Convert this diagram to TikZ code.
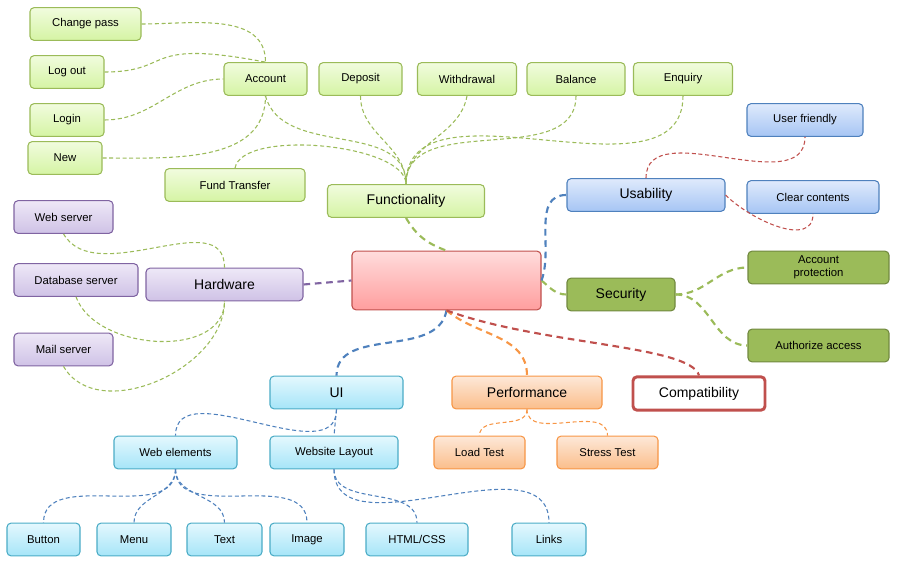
\documentclass[tikz,border=0pt]{standalone}
\usepackage{fontspec}
\setmainfont{Liberation Sans}
\usetikzlibrary{positioning}

\definecolor{grnline}{HTML}{9BBB59}
\definecolor{grntop}{HTML}{F1FCDE}
\definecolor{grnbot}{HTML}{D5F4A4}
\definecolor{grndark}{HTML}{71893F}
\definecolor{purline}{HTML}{8064A2}
\definecolor{purtop}{HTML}{EEE8F7}
\definecolor{purbot}{HTML}{CFC2E6}
\definecolor{bluline}{HTML}{4F81BD}
\definecolor{blutop}{HTML}{DFEAFC}
\definecolor{blubot}{HTML}{A6C5F4}
\definecolor{cyaline}{HTML}{4BACC6}
\definecolor{cyatop}{HTML}{E4F8FE}
\definecolor{cyabot}{HTML}{A6E5F8}
\definecolor{oraline}{HTML}{F79646}
\definecolor{oratop}{HTML}{FDE8D8}
\definecolor{orabot}{HTML}{FBBE8B}
\definecolor{redline}{HTML}{C0504D}
\definecolor{redtop}{HTML}{FFDCDC}
\definecolor{redbot}{HTML}{FF9E9E}

\begin{document}
\begin{tikzpicture}[x=0.75pt,y=-0.75pt,
	wd/.style={minimum width=#1*0.75pt},
	box/.style={draw, rounded corners=3pt, line width=0.8pt, minimum height=24.5pt, inner sep=1pt, align=center, font=\fontsize{8.5}{9.5}\selectfont},
	bigbox/.style={box, font=\fontsize{10.5}{12}\selectfont},
	greenbox/.style={box, draw=grnline, top color=grntop, bottom color=grnbot},
	purplebox/.style={box, draw=purline, top color=purtop, bottom color=purbot},
	bluebox/.style={box, draw=bluline, top color=blutop, bottom color=blubot},
	cyanbox/.style={box, draw=cyaline, top color=cyatop, bottom color=cyabot},
	orangebox/.style={box, draw=oraline, top color=oratop, bottom color=orabot},
	olivebox/.style={box, draw=grndark, fill=grnline},
	thinlink/.style={line width=0.8pt, dash pattern=on 3pt off 2pt},
	thicklink/.style={line width=1.6pt, dash pattern=on 5pt off 3.5pt}]

	\useasboundingbox (0,0) rectangle (903,573);

	% functionality branch
	\node[greenbox, wd=111] (cpass) at (85.5,24) {Change pass};
	\node[greenbox, wd=74] (logout) at (67,72) {Log out};
	\node[greenbox, wd=74] (login) at (67,120) {Login};
	\node[greenbox, wd=74] (new) at (65,158) {New};
	\node[greenbox, wd=83] (acc) at (265.5,79) {Account};
	\node[greenbox, wd=83] (dep) at (360.5,79) {Deposit};
	\node[greenbox, wd=99] (wdr) at (467,79) {Withdrawal};
	\node[greenbox, wd=98] (bal) at (576,79) {Balance};
	\node[greenbox, wd=99] (enq) at (683,79) {Enquiry};
	\node[greenbox, wd=140] (fund) at (235,185) {Fund Transfer};
	\node[greenbox, bigbox, wd=157] (func) at (406,201) {Functionality};

	% centre
	\node[box, draw=redline, top color=redtop, bottom color=redbot, wd=189, minimum height=44pt] (cen) at (446.5,280.5) {};

	% usability and security
	\node[bluebox, wd=116] (ufr) at (805,120) {User friendly};
	\node[bluebox, bigbox, wd=158] (usa) at (646,195) {Usability};
	\node[bluebox, wd=132] (clr) at (813,197) {Clear contents};
	\node[olivebox, bigbox, wd=108] (sec) at (621,294.5) {Security};
	\node[olivebox, wd=141] (accp) at (818.5,267.5) {Account\\protection};
	\node[olivebox, wd=141] (auth) at (818.5,345.5) {Authorize access};

	% hardware
	\node[purplebox, wd=99] (websrv) at (63.5,217) {Web server};
	\node[purplebox, wd=124] (dbsrv) at (76,280) {Database server};
	\node[purplebox, wd=99] (mailsrv) at (63.5,349.5) {Mail server};
	\node[purplebox, bigbox, wd=157] (hw) at (224.5,284.5) {Hardware};

	% ui, performance, compatibility
	\node[cyanbox, bigbox, wd=133] (ui) at (336.5,392.5) {UI};
	\node[orangebox, bigbox, wd=150] (perf) at (527,392.5) {Performance};
	\node[box, bigbox, draw=redline, line width=2.2pt, fill=white, wd=132, minimum height=25pt] (comp) at (699,393.5) {Compatibility};
	\node[cyanbox, wd=123] (webel) at (175.5,452.5) {Web elements};
	\node[cyanbox, wd=128] (layout) at (334,452.5) {Website Layout};
	\node[orangebox, wd=91] (load) at (479.5,452.5) {Load Test};
	\node[orangebox, wd=101] (stress) at (607.5,452.5) {Stress Test};
	\node[cyanbox, wd=73] (btn) at (43.5,539.5) {Button};
	\node[cyanbox, wd=74] (menu) at (134,539.5) {Menu};
	\node[cyanbox, wd=75] (txt) at (224.5,539.5) {Text};
	\node[cyanbox, wd=74] (img) at (307,539.5) {Image};
	\node[cyanbox, wd=102] (html) at (417,539.5) {HTML/CSS};
	\node[cyanbox, wd=74] (links) at (549,539.5) {Links};

	% green links
	\draw[grnline, thinlink] (cpass.east) to[out=0,in=90] (acc.north);
	\draw[grnline, thinlink] (logout.east) .. controls (175,72) and (140,38) .. (acc.north);
	\draw[grnline, thinlink] (login.east) to[out=0,in=180] (acc.west);
	\draw[grnline, thinlink] (new.east) to[out=0,in=-90] (acc.south);
	\draw[grnline, thinlink] (acc.south) to[out=-75,in=90] (func.north);
	\draw[grnline, thinlink] (dep.south) to[out=-90,in=90] (func.north);
	\draw[grnline, thinlink] (wdr.south) to[out=-100,in=90] (func.north);
	\draw[grnline, thinlink] (bal.south) to[out=-90,in=90] (func.north);
	\draw[grnline, thinlink] (enq.south) to[out=-90,in=90] (func.north);
	\draw[grnline, thinlink] (fund.north) to[out=80,in=90,looseness=0.6] (func.north);
	\draw[grnline, thicklink] (func.south) to[out=-60,in=160] (cen.north);
	\draw[grnline, thinlink] (websrv.south) to[out=-60,in=90] (hw.north);
	\draw[grnline, thinlink] (dbsrv.south) to[out=-70,in=-90] (hw.south);
	\draw[grnline, thinlink] (mailsrv.south) to[out=-60,in=-90] (hw.south);
	\draw[grnline, thicklink] (cen.east) to[out=-40,in=180] (sec.west);
	\draw[grnline, thicklink] (sec.east) to[out=0,in=180] (accp.west);
	\draw[grnline, thicklink] (sec.east) to[out=0,in=180] (auth.west);

	% other branches
	\draw[purline, thicklink] (hw.east) -- (cen.west);
	\draw[bluline, thicklink] (cen.east) to[out=70,in=180] (usa.west);
	\draw[redline, thinlink] (usa.north) to[out=90,in=-90] (ufr.south);
	\draw[redline, thinlink] (usa.east) to[out=-45,in=-90] (clr.south);
	\draw[bluline, thicklink] (cen.south) to[out=-100,in=90] (ui.north);
	\draw[oraline, thicklink] (cen.south) to[out=-40,in=90] (perf.north);
	\draw[redline, thicklink] (cen.south) .. controls (540,345) and (690,345) .. (comp.north);
	\draw[bluline, thinlink] (ui.south) to[out=-90,in=90] (webel.north);
	\draw[bluline, thinlink] (ui.south) -- (layout.north);
	\draw[bluline, thinlink] (webel.south) to[out=-90,in=90] (btn.north);
	\draw[bluline, thinlink] (webel.south) to[out=-90,in=90] (menu.north);
	\draw[bluline, thinlink] (webel.south) to[out=-90,in=90] (txt.north);
	\draw[bluline, thinlink] (webel.south) to[out=-90,in=90] (img.north);
	\draw[bluline, thinlink] (layout.south) to[out=-90,in=90] (html.north);
	\draw[bluline, thinlink] (layout.south) to[out=-90,in=90] (links.north);
	\draw[oraline, thinlink] (perf.south) to[out=-90,in=90] (load.north);
	\draw[oraline, thinlink] (perf.south) to[out=-90,in=90] (stress.north);
\end{tikzpicture}
\end{document}
